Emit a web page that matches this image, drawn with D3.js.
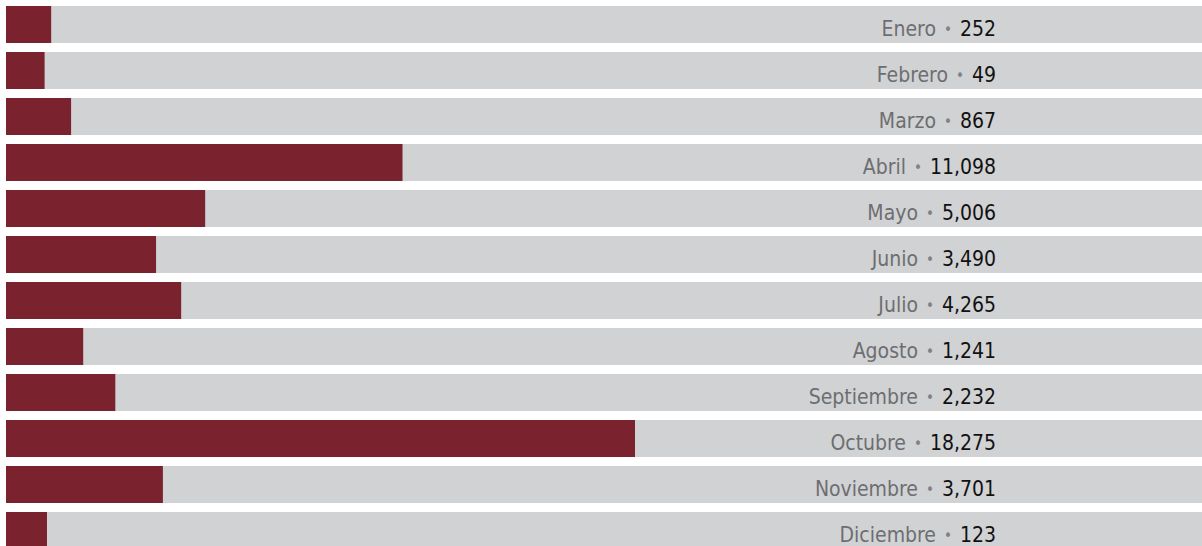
<!DOCTYPE html>
<meta charset="utf-8">
<style>
    body { margin: 0; background: #fff; }
    .label { font-family: "Liberation Sans Narrow", "DejaVu Sans Condensed", sans-serif; font-size: 21px; }
    .month { fill: #6d6e71; }
    .dot { fill: #808285; font-size: 15px; }
    .value { fill: #111; }
</style>
<body>
<script src="https://d3js.org/d3.v7.min.js"></script>
<script>
    // data
    var months = ["Enero", "Febrero", "Marzo", "Abril", "Mayo", "Junio", "Julio", "Agosto", "Septiembre", "Octubre", "Noviembre", "Diciembre"];
    var values = [252, 49, 867, 11098, 5006, 3490, 4265, 1241, 2232, 18275, 3701, 123];

    var width = 1202, height = 546;
    var left = 6, labelRight = 996;

    var svg = d3.select("body").append("svg").attr("width", width).attr("height", height);

    // rows: 46px pitch, 37px bars
    var y = d3.scaleBand().domain(months).range([6, 6 + 46 * months.length - 9]).paddingInner(9 / 46).paddingOuter(0);
    // bar length, with a small minimum stub
    var x = d3.scaleLinear().domain([0, d3.max(values)]).range([left + 37, left + 629]);

    var fmt = d3.format(",");

    var rows = svg.selectAll("g.row").data(months).enter().append("g").attr("class", "row")
        .attr("transform", function(d) { return "translate(0," + y(d) + ")"; });

    // grey background track
    rows.append("rect").attr("x", left).attr("y", 0).attr("width", width - left).attr("height", y.bandwidth()).attr("fill", "#d1d2d4");

    // maroon bar
    rows.append("rect").attr("x", left).attr("y", 0)
        .attr("width", function(d, i) { return x(values[i]) - left; })
        .attr("height", y.bandwidth()).attr("fill", "#7a222e");

    // label: month • value
    var t = rows.append("text").attr("class", "label").attr("x", labelRight).attr("y", 30).attr("text-anchor", "end");
    t.append("tspan").attr("class", "month").text(function(d) { return d; });
    t.append("tspan").attr("class", "dot").attr("dx", 8).attr("dy", -1).text("\u2022");
    t.append("tspan").attr("class", "value").attr("dx", 8).attr("dy", 1).text(function(d, i) { return fmt(values[i]); });
</script>
</body>
